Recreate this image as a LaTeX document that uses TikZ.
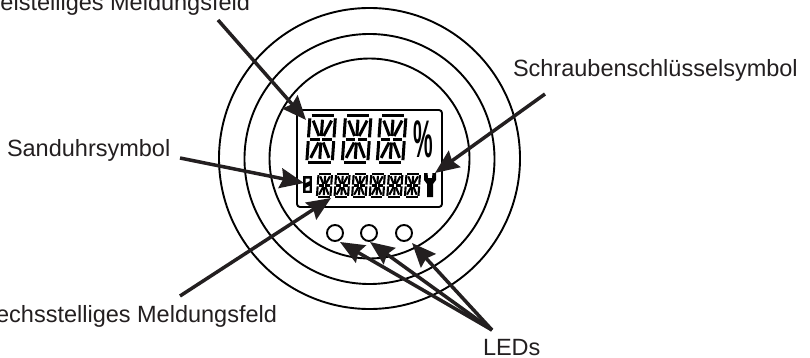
\documentclass[tikz,border=0pt]{standalone}
\usepackage{fontspec}
\setmainfont{Liberation Sans}
\usetikzlibrary{arrows.meta}
\definecolor{ink}{HTML}{231F20}
\tikzset{
  labeltext/.style={font=\fontsize{23.5}{28}\selectfont,text=ink,inner sep=0pt,outer sep=0pt},
  ring/.style={draw=black,line width=1.9pt,fill=none},
  led/.style={draw=black,line width=1.9pt,circle,minimum size=16pt,inner sep=0pt,outer sep=1pt},
  pointer/.style={draw=ink,line width=3.5pt,-{Stealth[length=24pt,width=20pt,inset=3pt]}},
  lcdbox/.style={draw=black,line width=1.9pt,rounded corners=3pt},
}
\newcommand{\lcddigit}[5]{%
  \begin{scope}[shift={(#1,#2)},x=#3pt,y=#4pt,xslant=0.07,line width=#5pt,black]
    \foreach \ax/\ay/\bx/\by in {
      .06/0/.94/0, .06/1/.94/1,
      0/.05/0/.46, 0/.54/0/.95, 1/.05/1/.46, 1/.54/1/.95,
      .08/.5/.45/.5, .55/.5/.92/.5,
      .5/.08/.5/.43, .5/.57/.5/.92,
      .14/.1/.41/.43, .86/.1/.59/.43, .41/.57/.14/.9, .59/.57/.86/.9}
      \draw (\ax,-\ay) -- (\bx,-\by);
  \end{scope}}
\begin{document}
\begin{tikzpicture}[x=1pt,y=-1pt]
  \path[use as bounding box] (0,0) rectangle (810,358);
  \clip (0,0) rectangle (810,358);
  \fill[white] (0,0) rectangle (810,358);
  % rings
  \node[ring,circle,minimum size=301pt,inner sep=0pt] (outer) at (369.5,158.5) {};
  \node[ring,circle,minimum size=250pt,inner sep=0pt] (middle) at (369.5,159) {};
  \node[ring,circle,minimum size=200pt,inner sep=0pt] (inner) at (369.5,158.5) {};
  % display
  \draw[lcdbox] (297,110) rectangle (442,207);
  % big digits
  \lcddigit{310}{116}{25.5}{46.5}{3}
  \lcddigit{345.5}{116}{25.5}{46.5}{3}
  \lcddigit{380.5}{116}{25.5}{46.5}{3}
  \node[font=\bfseries\fontsize{46}{46}\selectfont,inner sep=0pt,xscale=.48,yscale=1.15] (pct) at (423,139.5) {\%};
  % small digits
  \foreach \i in {0,...,5}
    \lcddigit{\fpeval{318.5+17.6*\i}}{174}{13.5}{23}{2.1}
  % hourglass
  \fill[black] (303,176) rectangle (312,193);
  \fill[white] (305.5,178.5) -- (309.5,178.5) -- (309.5,181) -- (305.5,183) -- cycle;
  \fill[white] (305.5,190.5) -- (309.5,190.5) -- (309.5,186) -- (305.5,188) -- cycle;
  % wrench
  \fill[black] (424,173) -- (427.5,173) -- (428,178) -- (432,178) -- (432.5,173) -- (436,173)
     -- (436,180) -- (433,184) -- (433,197) -- (427,197) -- (427,184) -- (424,180) -- cycle;
  % LEDs
  \node[led] (ledA) at (335,233) {};
  \node[led] (ledB) at (369,233) {};
  \node[led] (ledC) at (404,233) {};
  % labels
  \node[labeltext,anchor=base east] (drei) at (250,10.5) {Dreistelliges Meldungsfeld};
  \node[labeltext,anchor=base west] (schr) at (513,77) {Schraubenschlüsselsymbol};
  \node[labeltext,anchor=base west] (sand) at (7,157) {Sanduhrsymbol};
  \node[labeltext,anchor=base east] (sechs) at (277,322) {Sechsstelliges Meldungsfeld};
  \node[labeltext,anchor=base west] (leds) at (483,355) {LEDs};
  % connector ends
  \coordinate (dreiS) at (218,20);
  \coordinate (dreiT) at (306,120);
  \coordinate (sandS) at (180,158);
  \coordinate (sandT) at (304,183);
  \coordinate (sechsS) at (180,296);
  \coordinate (sechsT) at (331,198);
  \coordinate (schrS) at (545,94);
  \coordinate (schrT) at (435,173);
  \coordinate (ledsS) at (492,330);
  \coordinate (tipA) at (340,242);
  \coordinate (tipB) at (370,242);
  \coordinate (tipC) at (412,243);
  \draw[pointer] (dreiS) -- (dreiT);
  \draw[pointer] (sandS) -- (sandT);
  \draw[pointer] (sechsS) -- (sechsT);
  \draw[pointer] (schrS) -- (schrT);
  \draw[pointer] (ledsS) -- (tipA);
  \draw[pointer] (ledsS) -- (tipB);
  \draw[pointer] (ledsS) -- (tipC);
\end{tikzpicture}
\end{document}
